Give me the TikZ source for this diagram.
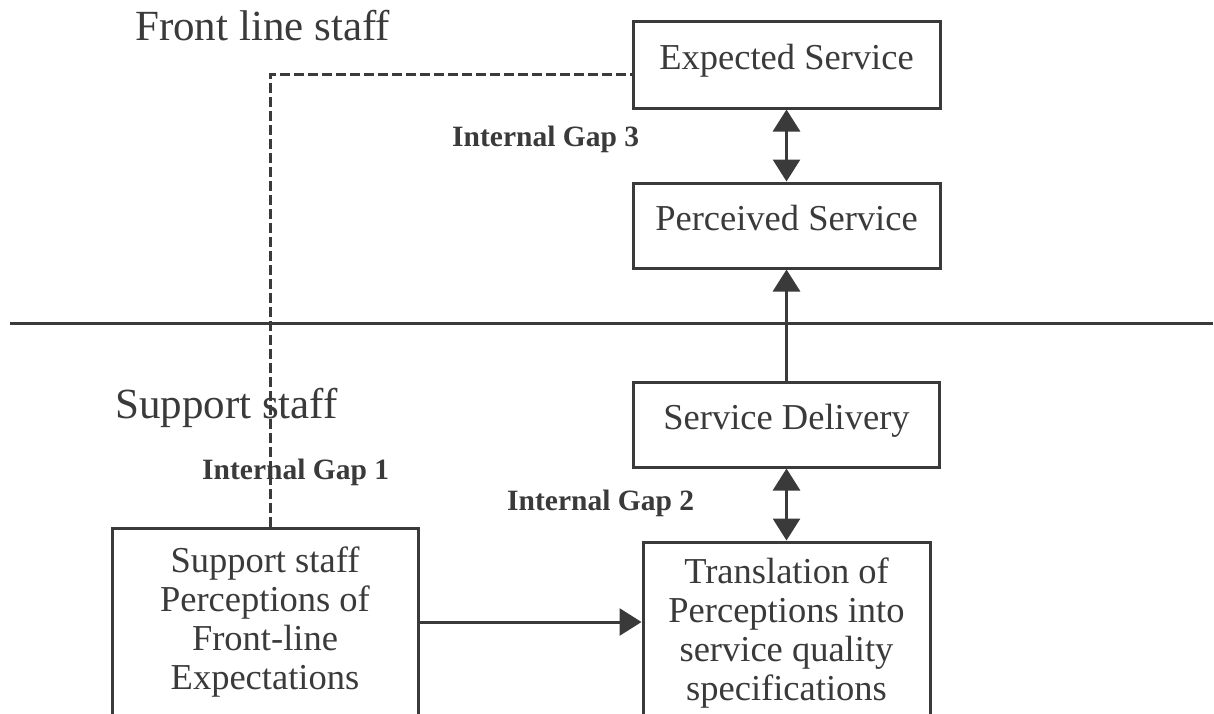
\documentclass[tikz,border=0pt]{standalone}
\usepackage{fontspec}
\setmainfont{Liberation Serif}
\usetikzlibrary{arrows.meta,calc}
\definecolor{ink}{RGB}{58,58,58}
\begin{document}
\begin{tikzpicture}[x=1pt,y=-1pt,
  box/.style={draw=ink, line width=3pt, rectangle, inner sep=0pt, text=ink,
              font=\fontsize{36.5}{39}\selectfont, align=center},
  onebox/.style={box, text depth=15pt},
  lbl/.style={text=ink, inner sep=0pt, anchor=base west, font=\fontsize{43}{48}\selectfont},
  gaplbl/.style={text=ink, inner sep=0pt, anchor=base west, font=\fontsize{29.5}{32}\selectfont\bfseries},
  conn/.style={draw=ink, line width=3pt},
  arr/.style={conn, -{Triangle[width=27pt,length=22pt]}},
  darr/.style={conn, {Triangle[width=27pt,length=22pt]}-{Triangle[width=27pt,length=22pt]}},
  dashline/.style={draw=ink, line width=3pt, dash pattern=on 10pt off 4pt}
]
\clip (0,0) rectangle (1214,713);
\fill[white] (0,0) rectangle (1214,713);

% labels
\node[lbl] (tfront) at (135,40) {Front line staff};
\node[lbl] (tsupport) at (115,418) {Support staff};
\node[gaplbl] (gap3) at (452,146) {Internal Gap 3};
\node[gaplbl] (gap1) at (202,479) {Internal Gap 1};
\node[gaplbl] (gap2) at (507,510) {Internal Gap 2};

% boxes
\node[onebox, minimum width=307pt, minimum height=87pt] (exp) at (786.5,64.5) {Expected Service};
\node[onebox, minimum width=307pt, minimum height=85pt] (per) at (786.5,225.5) {Perceived Service};
\node[onebox, minimum width=306pt, minimum height=85pt] (del) at (786.5,424.5) {Service Delivery};
\node[box, minimum width=287pt, minimum height=182pt] (trans) at (786.5,633) {Translation of\\Perceptions into\\service quality\\specifications};
\node[box, minimum width=306pt, minimum height=188pt] (sup) at (265,622) {Support staff\\Perceptions of\\Front-line\\Expectations};

% divider
\coordinate (hl) at (10,323);
\coordinate (hr) at (1213,323);
\draw[conn] (hl) -- (hr);

% connectors
\draw[darr] (exp) -- (per);
\draw[arr] (del) -- (per);
\draw[darr] (del) -- (trans);
\draw[arr] (sup.east) -- (sup.east -| trans.west);
\draw[dashline] ([xshift=5pt]sup.north) |- ([yshift=-10pt]exp.west);
\end{tikzpicture}
\end{document}
